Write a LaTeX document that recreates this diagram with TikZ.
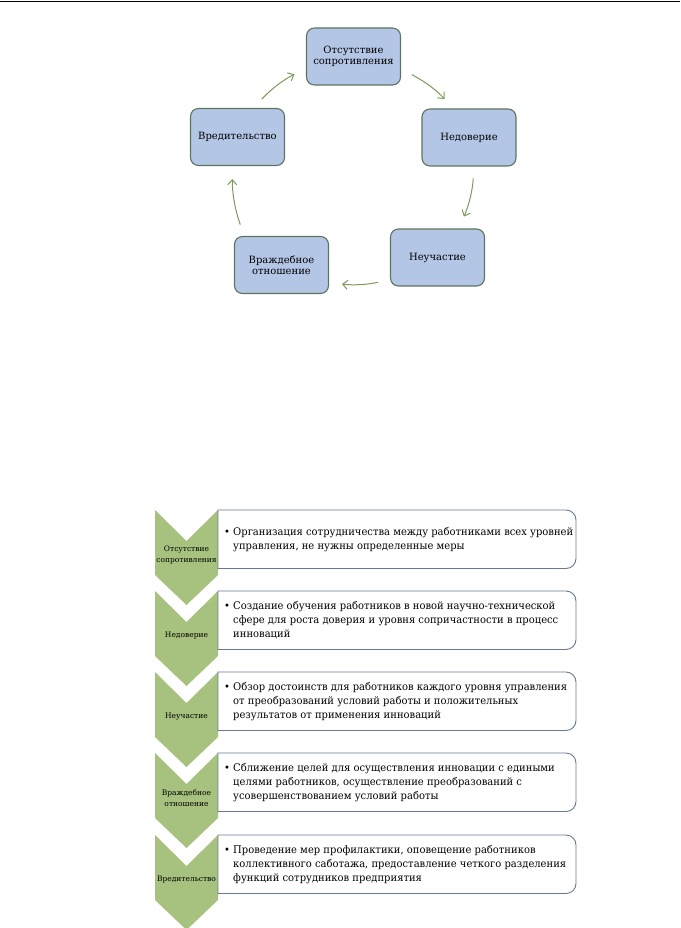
\documentclass[tikz,border=0pt]{standalone}
\usepackage{fontspec}
\setmainfont{DejaVu Serif}
\newfontfamily\listfont[FakeStretch=0.95]{DejaVu Serif}
\usetikzlibrary{arrows.meta}

\definecolor{cycfill}{HTML}{B4C6E6}
\definecolor{cycline}{HTML}{5F745F}
\definecolor{arrgreen}{HTML}{7A9C58}
\definecolor{chevgreen}{HTML}{A6C27E}
\definecolor{boxline}{HTML}{687A92}

\tikzset{
  cycbox/.style={draw=cycline,line width=1.1pt,fill=cycfill,rounded corners=8pt,
    minimum width=94pt,minimum height=57pt,inner sep=0pt,align=center,
    font=\fontsize{10}{11.5}\selectfont},
  cycarrow/.style={draw=arrgreen,line width=1pt,-{Straight Barb[length=5pt,width=9pt]},
    shorten <=12pt,shorten >=13pt},
  chevlabel/.style={inner sep=0pt,align=center,font=\fontsize{7.5}{11}\selectfont},
  listtext/.style={anchor=west,inner sep=0pt,font=\listfont\fontsize{10.5}{14}\selectfont}
}
\newcommand{\bulletpar}[1]{\makebox[9pt][l]{\textbullet}\parbox[t]{400pt}{\raggedright #1}}

\begin{document}
\begin{tikzpicture}[x=1pt,y=1pt]
  \useasboundingbox (0,0) rectangle (680,-928);
  \draw[line width=1.5pt] (0,-1.5) -- (680,-1.5);

  % cycle
  \node[cycbox] (ots) at (353.5,-56.5) {Отсутствие\\сопротивления};
  \node[cycbox] (ned) at (469,-137.5) {Недоверие};
  \node[cycbox] (neu) at (437.5,-257.5) {Неучастие};
  \node[cycbox] (vrazh) at (281.5,-265) {Враждебное\\отношение};
  \node[cycbox] (vred) at (237.5,-137) {Вредительство};

  \draw[cycarrow] (vred.61) to[bend left=10] (ots.194);
  \draw[cycarrow] (ots.-15) to[bend left=10] (ned.118);
  \draw[cycarrow] (ned.-80) to[bend left=10] (neu.54);
  \draw[cycarrow] (neu.205) to[bend left=10] (vrazh.-20);
  \draw[cycarrow] (vrazh.142) to[bend left=10] (vred.260);

  % chevron list
  \foreach \ty/\lab/\txt in {
    510/{Отсутствие\\сопротивления}/{Организация сотрудничества между работниками всех уровней\\управления, не нужны определенные меры},
    591/{Недоверие}/{Создание обучения работников в новой научно-технической\\сфере для роста доверия и уровня сопричастности в процесс\\инноваций},
    672/{Неучастие}/{Обзор достоинств для работников каждого уровня управления\\от преобразований условий работы и положительных\\результатов от применения инноваций},
    753/{Враждебное\\отношение}/{Сближение целей для осуществления инновации с едиными\\целями работников, осуществление преобразований с\\усовершенствованием условий работы},
    835/{Вредительство}/{Проведение мер профилактики, оповещение работников\\коллективного саботажа, предоставление четкого разделения\\функций сотрудников предприятия}}
  {
    \fill[chevgreen] (155,-\ty) -- (186.5,-\ty-31) -- (218,-\ty) -- (218,-\ty-65)
      -- (186.5,-\ty-95) -- (155,-\ty-65) -- cycle;
    \node[chevlabel] at (186.5,-\ty-45) {\lab};
    \draw[boxline,fill=white,line width=0.9pt] (218,-\ty) -- (566,-\ty)
      arc[start angle=90,end angle=0,radius=10pt] -- (576,-\ty-48.5)
      arc[start angle=0,end angle=-90,radius=10pt] -- (218,-\ty-58.5) -- cycle;
    \node[listtext] at (224,-\ty-29.25) {\bulletpar{\txt}};
  }
\end{tikzpicture}
\end{document}
